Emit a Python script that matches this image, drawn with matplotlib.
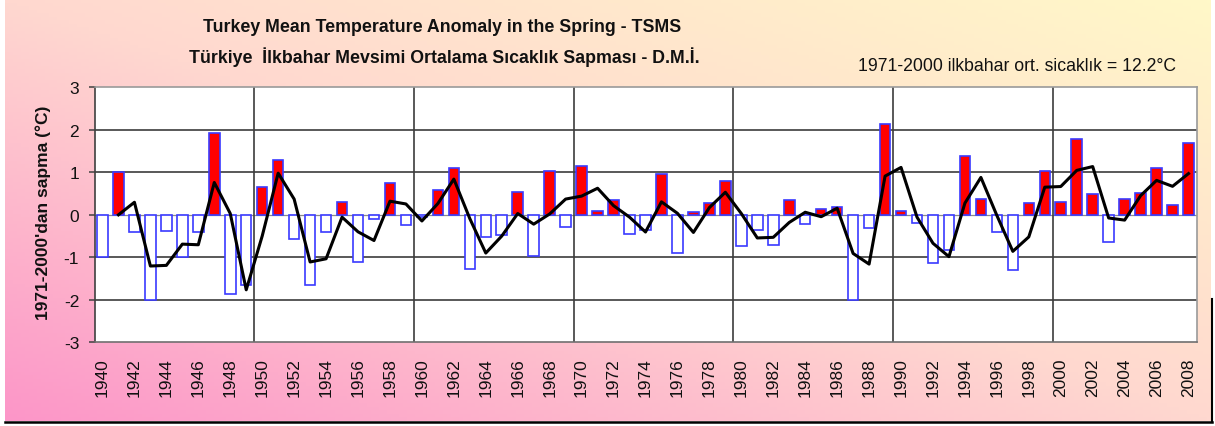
import numpy as np
import pandas as pd
import matplotlib
matplotlib.use("Agg")
import matplotlib.pyplot as plt
from matplotlib.lines import Line2D

plt.rcParams['font.family'] = ['Liberation Sans', 'DejaVu Sans']

# ---------------- data ----------------
years = list(range(1940, 2009))
anomaly = [
    -1.00, 1.00, -0.41, -2.00, -0.38, -1.00, -0.41, 1.93, -1.87, -1.66,   # 1940-49
    0.66, 1.30, -0.56, -1.66, -0.41, 0.30, -1.10, -0.11, 0.75, -0.24,     # 1950-59
    -0.05, 0.58, 1.10, -1.28, -0.52, -0.48, 0.54, -0.98, 1.02, -0.28,     # 1960-69
    1.16, 0.09, 0.34, -0.45, -0.36, 0.97, -0.90, 0.07, 0.27, 0.79,        # 1970-79
    -0.73, -0.36, -0.70, 0.34, -0.22, 0.13, 0.18, -2.00, -0.32, 2.14,     # 1980-89
    0.09, -0.20, -1.14, -0.83, 1.38, 0.38, -0.41, -1.31, 0.27, 1.03,      # 1990-99
    0.30, 1.79, 0.48, -0.63, 0.38, 0.52, 1.10, 0.24, 1.70,                # 2000-08
]
tick_years = years[::2]
yticks = [-3, -2, -1, 0, 1, 2, 3]

title1 = "Turkey Mean Temperature Anomaly in the Spring - TSMS"
title2 = "Türkiye  İlkbahar Mevsimi Ortalama Sıcaklık Sapması - D.M.İ."
note = "1971-2000 ilkbahar ort. sicaklık = 12.2°C"
ylabel = "1971-2000'dan sapma (°C)"

# 2-year moving-average trendline (as in the original Excel chart)
trend = pd.Series(anomaly, index=years).rolling(2).mean()

# ---------------- figure ----------------
W, H = 1215, 427
fig = plt.figure(figsize=(W / 100, H / 100), dpi=100)
fig.patch.set_facecolor('white')

# gradient background (pink bottom-left -> pale yellow top-right)
bg = fig.add_axes([5 / W, 5 / H, (1211 - 5) / W, (427 - 5) / H], zorder=-10)
nx, ny = 300, 120
xx, yy = np.meshgrid(np.linspace(0, 1, nx), np.linspace(0, 1, ny))
tt = (xx + yy) / 2.0  # origin='lower': yy=0 is the bottom row
c0 = np.array([252, 150, 200]) / 255.0
c1 = np.array([255, 216, 208]) / 255.0
c2 = np.array([255, 248, 200]) / 255.0
img = np.empty((ny, nx, 3))
for k in range(3):
    img[..., k] = np.interp(tt, [0.0, 0.5, 1.0], [c0[k], c1[k], c2[k]])
bg.imshow(img, aspect='auto', origin='lower', extent=[0, 1, 0, 1])
bg.set_axis_off()

# border lines (bottom and right shadow)
fig.add_artist(Line2D([5 / W, 1212 / W], [1 - 423 / H, 1 - 423 / H], color='black', lw=1.8))
fig.add_artist(Line2D([1211.5 / W, 1211.5 / W], [1 - 300 / H, 1 - 423 / H], color='black', lw=1.5))

# main axes
x0, x1, y0, y1 = 94.5, 1196.5, 88.3, 343.3
ax = fig.add_axes([x0 / W, 1 - y1 / H, (x1 - x0) / W, (y1 - y0) / H])
ax.set_facecolor('white')
ax.set_xlim(1939.5, 2008.5)
ax.set_ylim(-3, 3)

for yv in [-2, -1, 1, 2]:
    ax.axhline(yv, color='#3c3c3c', lw=1.2, zorder=1)
ax.axhline(0, color='#8a8a8a', lw=0.9, zorder=1)
for xv in np.arange(1949.5, 2000, 10):
    ax.axvline(xv, color='#3c3c3c', lw=1.2, zorder=1)

colors = ['#ff0000' if v > 0 else 'white' for v in anomaly]
ax.bar(years, anomaly, width=0.66, color=colors, edgecolor='#3a3aff', linewidth=1.2, zorder=2)
ax.plot(trend.index, trend.values, color='black', lw=2.2, zorder=3)

for s in ['top', 'right']:
    ax.spines[s].set_color('#9a9a9a')
    ax.spines[s].set_linewidth(1.2)
ax.spines['left'].set_color('#404040')
ax.spines['left'].set_linewidth(1.2)
ax.spines['bottom'].set_color('#707070')
ax.spines['bottom'].set_linewidth(1.2)

ax.set_xticks(tick_years)
ax.set_xticklabels([str(y) for y in tick_years], rotation=90, fontsize=12.5, color='#111111')
ax.tick_params(axis='x', length=0, pad=11)
ax.set_yticks(yticks)
ax.set_yticklabels([str(v) for v in yticks], fontsize=12.5, color='#111111')
ax.tick_params(axis='y', length=4.5, width=1.1, color='#404040', pad=6.5)

fig.text(43 / W, 1 - 213 / H, ylabel, rotation=90, ha='center', va='center',
         fontsize=12.5, fontweight='bold', color='#111111')
fig.text(442 / W, 1 - 27 / H, title1, ha='center', va='center',
         fontsize=12.8, fontweight='bold', color='#111111')
fig.text(444 / W, 1 - 57 / H, title2, ha='center', va='center',
         fontsize=12.8, fontweight='bold', color='#111111')
fig.text(1017 / W, 1 - 67 / H, note, ha='center', va='center',
         fontsize=12.7, color='#111111')

fig.savefig('out.png', dpi=100)
